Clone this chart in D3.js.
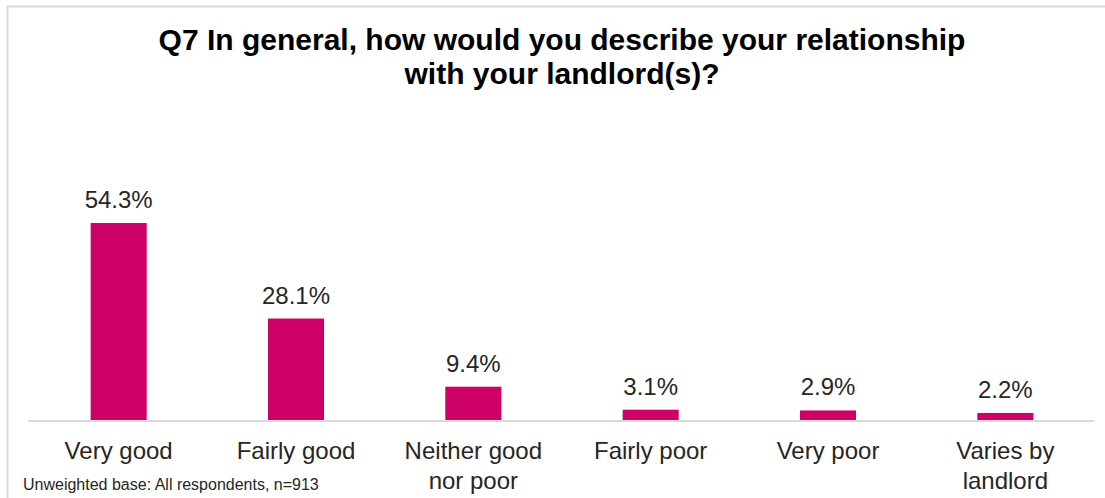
<!DOCTYPE html>
<html>
<head>
<meta charset="utf-8">
<script src="https://cdn.jsdelivr.net/npm/d3@7"></script>
<style>
  html, body { margin: 0; padding: 0; background: #fff; }
  svg { display: block; font-family: "Liberation Sans", Arial, sans-serif; }
</style>
</head>
<body>
<svg id="chart" width="1105" height="498"></svg>
<script>
// Survey responses, Q7
const categories = ["Very good", "Fairly good", "Neither good\nnor poor", "Fairly poor", "Very poor", "Varies by\nlandlord"];
const values = [54.3, 28.1, 9.4, 3.1, 2.9, 2.2];
const titleLines = ["Q7 In general, how would you describe your relationship", "with your landlord(s)?"];
const footnote = "Unweighted base: All respondents, n=913";

const svg = d3.select("#chart");
const W = 1105, H = 498;

// frame of the chart area
svg.append("path")
  .attr("d", `M7.5,${H} V6.5 H${W}`)
  .attr("fill", "none")
  .attr("stroke", "#d9d9d9")
  .attr("stroke-width", 2);

const baseY = 421;
const x = d3.scaleBand()
  .domain(categories)
  .range([30, 1094])
  .paddingInner(0.684)
  .paddingOuter(0.342);

const y = d3.scaleLinear()
  .domain([0, 60])
  .range([baseY, baseY - 60 * 3.646]);

// title
svg.append("text")
  .attr("text-anchor", "middle")
  .attr("font-weight", "bold")
  .attr("font-size", 30)
  .attr("fill", "#000")
  .selectAll("tspan")
  .data(titleLines)
  .join("tspan")
  .attr("x", 562)
  .attr("y", (d, i) => 50 + i * 34)
  .text(d => d);

// bars
svg.append("g")
  .selectAll("rect")
  .data(values)
  .join("rect")
  .attr("x", (d, i) => x(categories[i]))
  .attr("width", x.bandwidth())
  .attr("y", d => y(d))
  .attr("height", d => y(0) - y(d))
  .attr("fill", "#cc0066");

// value labels
svg.append("g")
  .selectAll("text")
  .data(values)
  .join("text")
  .attr("x", (d, i) => x(categories[i]) + x.bandwidth() / 2)
  .attr("y", d => y(d) - 15)
  .attr("text-anchor", "middle")
  .attr("font-size", 24)
  .attr("fill", "#262626")
  .text(d => d.toFixed(1) + "%");

// category axis
const axis = svg.append("g")
  .attr("transform", `translate(0,${baseY})`)
  .call(d3.axisBottom(x).tickSize(0).tickSizeOuter(0));
axis.select(".domain")
  .attr("stroke", "#d9d9d9")
  .attr("stroke-width", 2)
  .attr("d", "M28,0H1094");
axis.selectAll(".tick text").each(function(d) {
  const t = d3.select(this);
  t.text(null)
    .attr("y", null).attr("dy", null)
    .attr("font-size", 24)
    .attr("font-family", "Liberation Sans, Arial, sans-serif")
    .attr("fill", "#262626");
  d.split("\n").forEach((line, i) => {
    t.append("tspan").attr("x", 0).attr("y", 38 + i * 30).text(line);
  });
});

// footnote
svg.append("text")
  .attr("x", 23)
  .attr("y", 490)
  .attr("font-size", 16)
  .attr("fill", "#262626")
  .text(footnote);
</script>
</body>
</html>
